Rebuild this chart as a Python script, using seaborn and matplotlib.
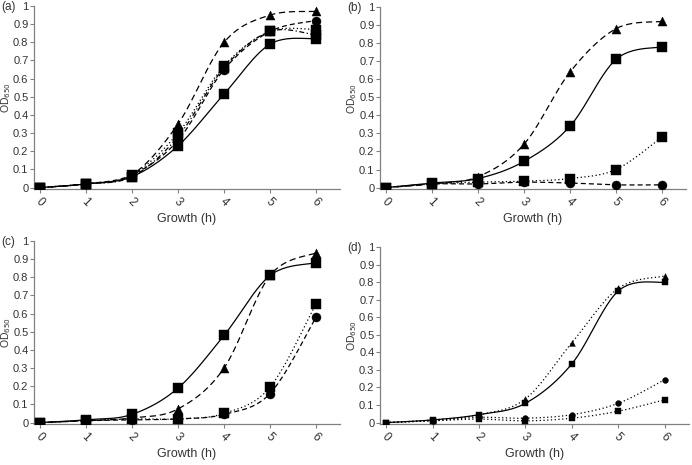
import numpy as np
import pandas as pd
import matplotlib
matplotlib.use('Agg')
import matplotlib.pyplot as plt
import seaborn as sns

sns.set_style('white')
plt.rcParams['font.family'] = ['Liberation Sans', 'DejaVu Sans']

# 측정 시간 (h)
hours = [0, 1, 2, 3, 4, 5, 6]

# (a)
a_tri = [0.0, 0.02, 0.07, 0.35, 0.80, 0.95, 0.97]
a_cir = [0.0, 0.02, 0.07, 0.26, 0.65, 0.86, 0.92]
a_sq_dot = [0.0, 0.02, 0.07, 0.30, 0.67, 0.86, 0.87]
a_sq_dd = [0.0, 0.02, 0.06, 0.28, 0.66, 0.86, 0.84]
a_sq_solid = [0.0, 0.02, 0.06, 0.23, 0.515, 0.79, 0.82]

# (b)
b_tri = [0.0, 0.02, 0.06, 0.24, 0.64, 0.88, 0.92]
b_sq_solid = [0.0, 0.025, 0.05, 0.145, 0.34, 0.71, 0.78]
b_sq_dot = [0.0, 0.02, 0.03, 0.035, 0.05, 0.10, 0.28]
b_cir = [0.0, 0.02, 0.02, 0.03, 0.025, 0.015, 0.015]

# (c)
c_sq_solid = [0.0, 0.015, 0.045, 0.19, 0.48, 0.81, 0.88]
c_tri = [0.0, 0.01, 0.025, 0.075, 0.30, 0.81, 0.935]
c_sq_dot = [0.0, 0.01, 0.02, 0.02, 0.05, 0.195, 0.655]
c_cir = [0.0, 0.01, 0.015, 0.02, 0.045, 0.16, 0.58]

# (d)
d_tri = [0.0, 0.015, 0.045, 0.135, 0.455, 0.765, 0.835]
d_sq_solid = [0.0, 0.015, 0.045, 0.11, 0.335, 0.75, 0.80]
d_cir = [0.0, 0.01, 0.03, 0.025, 0.045, 0.11, 0.245]
d_sq_dot = [0.0, 0.01, 0.02, 0.01, 0.025, 0.065, 0.13]

y_ticks = [0, 0.1, 0.2, 0.3, 0.4, 0.5, 0.6, 0.7, 0.8, 0.9, 1]
y_ticklabels = ['0', '0.1', '0.2', '0.3', '0.4', '0.5', '0.6', '0.7', '0.8', '0.9', '1']

LONG = (0, (5, 3))
MED = (0, (4, 2.5))
DOT = (0, (1, 2))
DASHDOT = (0, (4, 2, 1, 2))
SOLID = '-'

W, H = 692, 465


def smooth(x, y, n=24):
    # 엑셀 스타일 곡선 (Catmull-Rom)
    pts = np.column_stack([x, y]).astype(float)
    P = np.vstack([pts[0], pts, pts[-1]])
    out = []
    t = np.linspace(0, 1, n, endpoint=False)[:, None]
    for i in range(1, len(P) - 2):
        p0, p1, p2, p3 = P[i - 1], P[i], P[i + 1], P[i + 2]
        seg = 0.5 * (2 * p1 + (-p0 + p2) * t + (2 * p0 - 5 * p1 + 4 * p2 - p3) * t ** 2
                     + (-p0 + 3 * p1 - 3 * p2 + p3) * t ** 3)
        out.append(seg)
    out.append(pts[-1:])
    return np.vstack(out)


# (라벨, 패널 시작 x, 축 위치 px: left, top, right, bottom, 마커 크기, 시리즈)
panels = [
    ('(a)', 0, (34, 6, 340, 189), 6.5, [
        (a_sq_solid, 's', SOLID), (a_sq_dd, 's', DASHDOT), (a_sq_dot, 's', DOT),
        (a_cir, 'o', MED), (a_tri, '^', LONG)]),
    ('(b)', 346, (380, 7, 686, 189), 6.5, [
        (b_cir, 'o', MED), (b_sq_dot, 's', DOT), (b_sq_solid, 's', SOLID),
        (b_tri, '^', LONG)]),
    ('(c)', 0, (34, 241, 340, 424), 6.5, [
        (c_cir, 'o', MED), (c_sq_dot, 's', DOT), (c_tri, '^', LONG),
        (c_sq_solid, 's', SOLID)]),
    ('(d)', 346, (380, 247, 689, 424), 4.2, [
        (d_sq_dot, 's', DOT), (d_cir, 'o', DOT), (d_sq_solid, 's', SOLID),
        (d_tri, '^', DOT)]),
]

fig = plt.figure(figsize=(W / 100, H / 100), dpi=100)

for label, x0, (l, t, r, b), msize, series in panels:
    ax = fig.add_axes([l / W, 1 - b / H, (r - l) / W, (b - t) / H])
    for vals, mk, ls in series:
        curve = smooth(hours, vals)
        df = pd.DataFrame({'x': curve[:, 0], 'y': curve[:, 1]})
        sns.lineplot(data=df, x='x', y='y', ax=ax, color='black', linewidth=0.9,
                     linestyle=ls, estimator=None, sort=False, legend=False)
    for vals, mk, ls in series:
        sns.scatterplot(x=hours, y=vals, ax=ax, marker=mk, color='black',
                        edgecolor='black', linewidth=0.3, s=msize ** 2, zorder=5,
                        legend=False)
    ax.set_xlim(-0.13, 6.52)
    ax.set_ylim(-0.008, 1.0)
    ax.set_xticks(hours)
    ax.set_xticklabels([str(h) for h in hours], rotation=-45, ha='center',
                       fontsize=8.5, color='#333333')
    ax.set_yticks(y_ticks)
    ax.set_yticklabels(y_ticklabels, fontsize=8, color='#333333')
    ax.tick_params(axis='both', direction='out', length=3, width=0.8,
                   color='#808080', pad=2, bottom=True, left=True)
    ax.tick_params(axis='y', pad=1)
    for side in ['top', 'right']:
        ax.spines[side].set_visible(False)
    for side in ['left', 'bottom']:
        ax.spines[side].set_color('#808080')
        ax.spines[side].set_linewidth(0.9)
    ax.set_xlabel('Growth (h)', fontsize=9, color='#333333', labelpad=3)
    ax.set_ylabel('OD$_{650}$', fontsize=7.5, color='#333333')
    ax.yaxis.set_label_coords((x0 + 13.2 - l) / (r - l), 0.5)
    fig.text((x0 + 1) / W, 1 - (t + 1) / H, label, fontsize=8.5,
             color='#333333', ha='left', va='center')

fig.savefig('out.png', dpi=100)
